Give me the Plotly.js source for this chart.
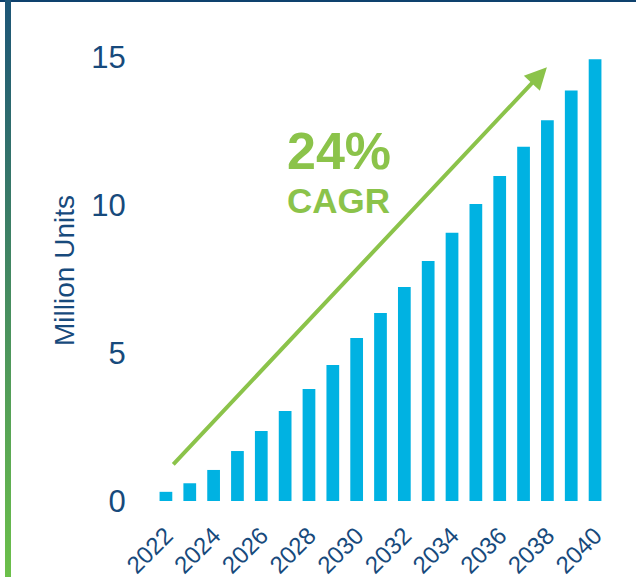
<!DOCTYPE html>
<html><head><meta charset="utf-8">
<script src="https://cdn.plot.ly/plotly-3.0.1.min.js"></script>
<style>
html,body{margin:0;padding:0;background:#fff;}
#wrap{position:relative;width:636px;height:582px;overflow:hidden;}
#chart{width:636px;height:582px;}
#topline{position:absolute;left:0;top:0;width:636px;height:2px;background:#0e416d;}
#sidebar{position:absolute;left:5px;top:0;width:6px;height:577px;background:linear-gradient(#1d5577,#6cc04a);}
</style></head><body>
<div id="wrap"><div id="chart"></div><div id="topline"></div><div id="sidebar"></div></div>
<script>
const years = [2022,2023,2024,2025,2026,2027,2028,2029,2030,2031,2032,2033,2034,2035,2036,2037,2038,2039,2040];
const units = [0.31,0.60,1.05,1.69,2.37,3.04,3.79,4.60,5.51,6.36,7.24,8.12,9.07,10.04,10.99,11.98,12.88,13.88,14.94];
const xTickVals = [2022,2024,2026,2028,2030,2032,2034,2036,2038,2040];
const yTickVals = [0,5,10,15];
const yTitle = 'Million Units';
const cagrPct = '24%';
const cagrLabel = 'CAGR';
const arrowFrom = [2022.25, 1.19];
const arrowTo = [2037.98, 14.67];

const navy = '#174a7c';
const green = '#8bc34a';
const font = 'Liberation Sans, Arial, sans-serif';

const trace = {
  type: 'bar', x: years, y: units,
  marker: {color: '#00b2e2', line: {width: 0}},
  hoverinfo: 'x+y'
};

const layout = {
  width: 636, height: 582,
  margin: {l: 154.4, r: 29.4, t: 40, b: 81},
  paper_bgcolor: '#ffffff', plot_bgcolor: '#ffffff',
  showlegend: false,
  bargap: 0.466,
  font: {family: font, color: navy},
  xaxis: {
    range: [2021.5, 2040.5], tickmode: 'array', tickvals: xTickVals,
    ticktext: xTickVals.map(String), tickangle: -45,
    tickfont: {size: 24, color: navy, family: font},
    ticks: 'outside', ticklen: 10, tickcolor: 'rgba(0,0,0,0)',
    showgrid: false, zeroline: false, showline: false
  },
  yaxis: {
    range: [0, 15.59], tickmode: 'array', tickvals: yTickVals,
    tickfont: {size: 31, color: navy, family: font},
    ticks: 'outside', ticklen: 21, tickcolor: 'rgba(0,0,0,0)',
    showgrid: false, zeroline: false, showline: false,
    title: {text: yTitle, font: {size: 28, color: navy, family: font}, standoff: 8}
  },
  annotations: [
    {x: arrowTo[0], y: arrowTo[1], ax: arrowFrom[0], ay: arrowFrom[1],
     xref: 'x', yref: 'y', axref: 'x', ayref: 'y', text: '', showarrow: true,
     arrowhead: 2, arrowsize: 1.1, arrowwidth: 4, arrowcolor: green, standoff: 0},
    {x: 0.408, y: 0.759, xref: 'paper', yref: 'paper', text: '<b>' + cagrPct + '</b>',
     showarrow: false, xanchor: 'center', yanchor: 'middle',
     font: {size: 52, color: green, family: font}},
    {x: 0.408, y: 0.651, xref: 'paper', yref: 'paper', text: '<b>' + cagrLabel + '</b>',
     showarrow: false, xanchor: 'center', yanchor: 'middle',
     font: {size: 35, color: green, family: font}}
  ]
};

Plotly.newPlot('chart', [trace], layout, {displayModeBar: false, staticPlot: true});
</script>
</body></html>
